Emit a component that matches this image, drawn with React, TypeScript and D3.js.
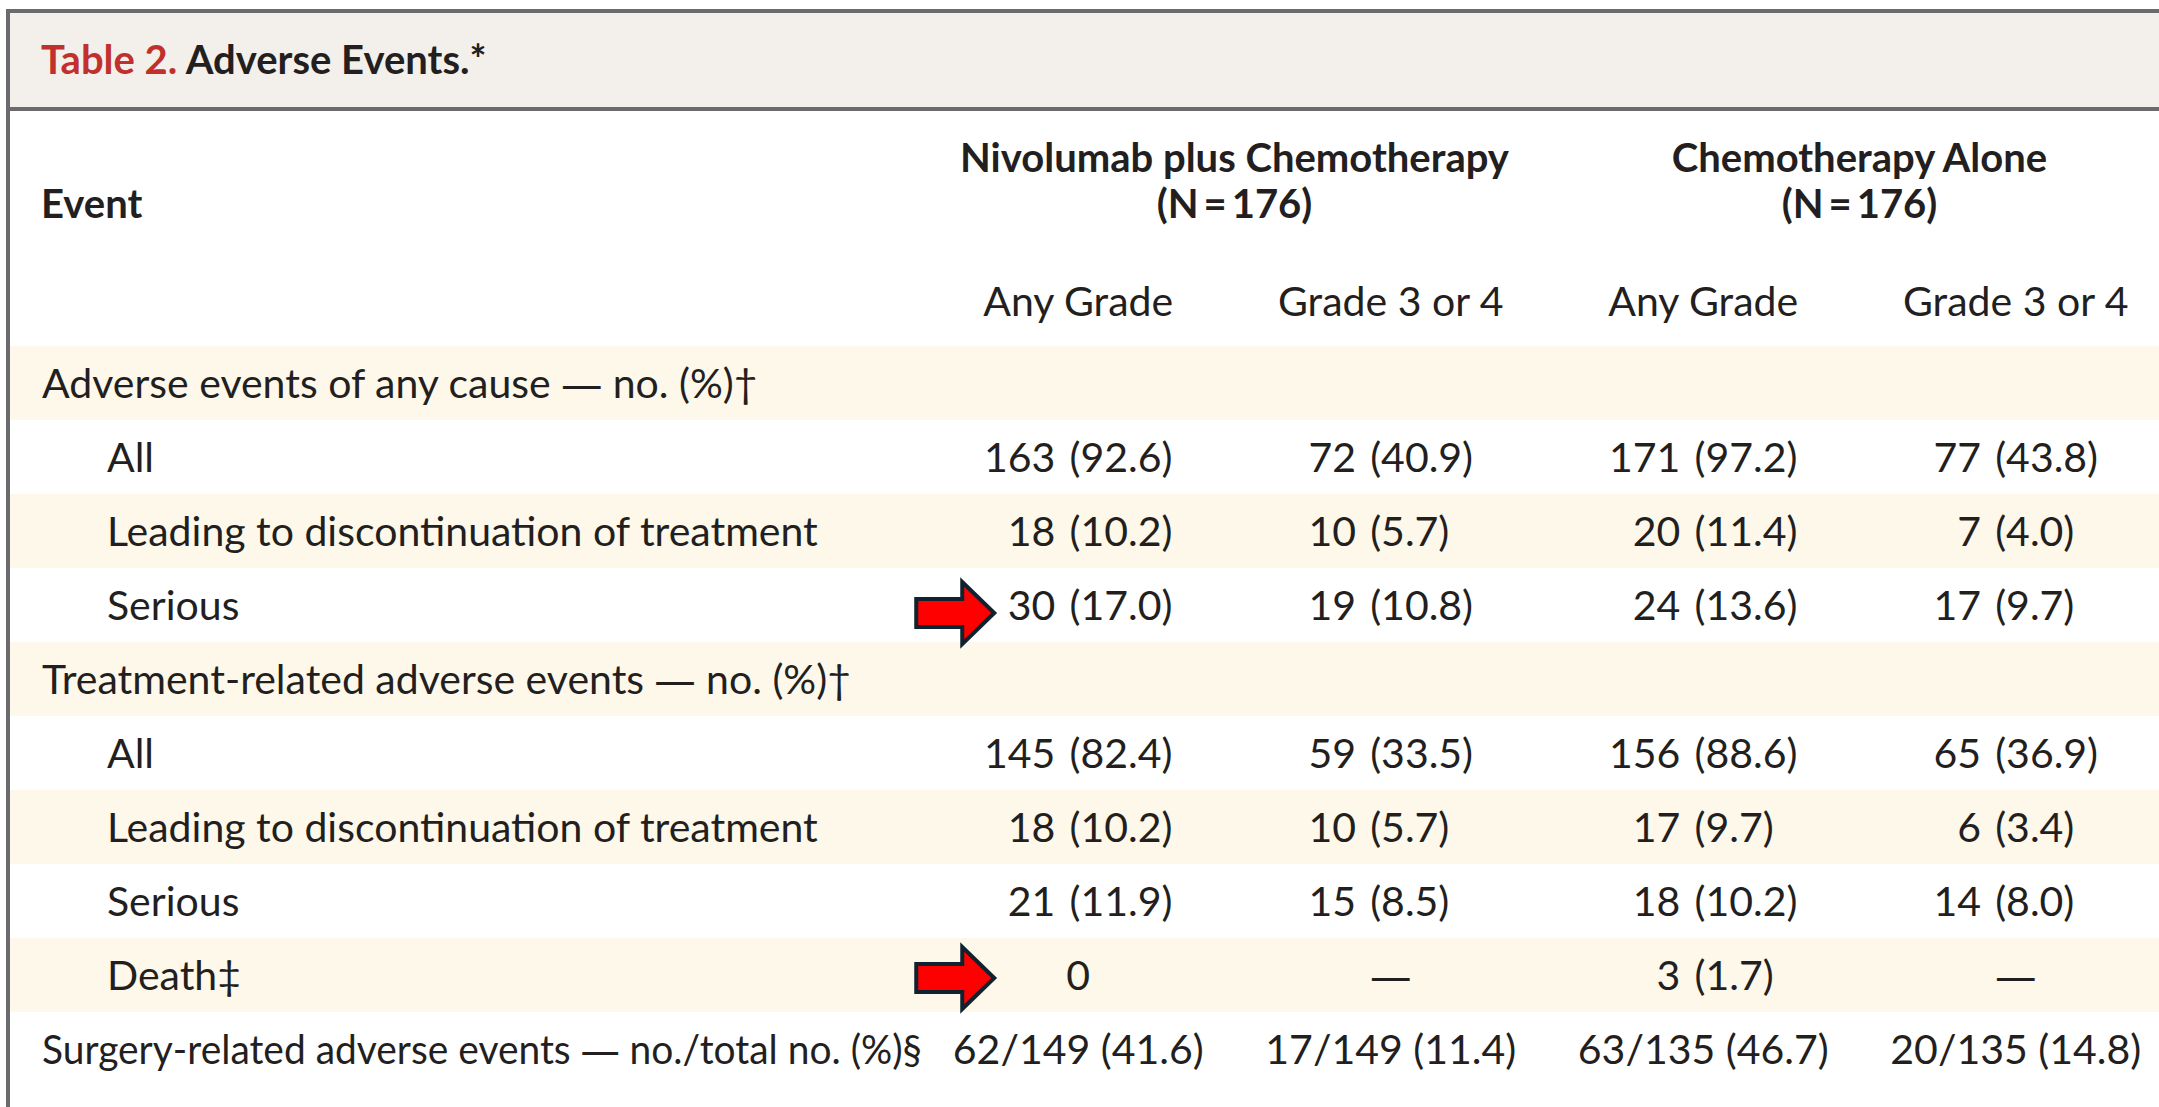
import React, { useMemo } from "react";
import * as d3 from "d3";

const W = 2159;
const H = 1107;

// ---- data ----
const titleLabel = "Table 2.";
const titleText = "Adverse Events.*";
const eventHeader = "Event";
const groupNames = ["Nivolumab plus Chemotherapy", "Chemotherapy Alone"];
const groupCounts = ["(N\u2009=\u2009176)", "(N\u2009=\u2009176)"];
const subColumns = ["Any Grade", "Grade 3 or 4", "Any Grade", "Grade 3 or 4"];

const rowLabels = [
  "Adverse events of any cause \u2014 no. (%)\u2020",
  "All",
  "Leading to discontinuation of treatment",
  "Serious",
  "Treatment-related adverse events \u2014 no. (%)\u2020",
  "All",
  "Leading to discontinuation of treatment",
  "Serious",
  "Death\u2021",
  "Surgery-related adverse events \u2014 no./total no. (%)\u00a7",
];
const rowLevels = [0, 1, 1, 1, 0, 1, 1, 1, 1, 0];
const rowShaded = [true, false, true, false, true, false, true, false, true, false];

const nivoAnyCounts = ["", "163", "18", "30", "", "145", "18", "21", "0", "62/149"];
const nivoAnyPct = [null, "92.6", "10.2", "17.0", null, "82.4", "10.2", "11.9", null, "41.6"];
const nivoG34Counts = ["", "72", "10", "19", "", "59", "10", "15", "\u2014", "17/149"];
const nivoG34Pct = [null, "40.9", "5.7", "10.8", null, "33.5", "5.7", "8.5", null, "11.4"];
const chemoAnyCounts = ["", "171", "20", "24", "", "156", "17", "18", "3", "63/135"];
const chemoAnyPct = [null, "97.2", "11.4", "13.6", null, "88.6", "9.7", "10.2", "1.7", "46.7"];
const chemoG34Counts = ["", "77", "7", "17", "", "65", "6", "14", "\u2014", "20/135"];
const chemoG34Pct = [null, "43.8", "4.0", "9.7", null, "36.9", "3.4", "8.0", null, "14.8"];

const arrowRows = [3, 8];

// ---- style ----
const FONT = "Lato, 'Open Sans', sans-serif";
const DASH_FONT = "'Open Sans', 'DejaVu Sans', sans-serif";
const FS = 41;
const FS_HEAD = 40;
const TEXT = "#231f20";
const RED_TITLE = "#c1302c";
const BORDER = "#6b6b6d";
const HEAD_BG = "#f3f0eb";
const BAND_BG = "#fdf8ea";
const LABEL_MAX_W = 880; // label column width before the first value column

// render a string, giving em dashes a wider dash font
function withDashes(s: string) {
  const parts = s.split("\u2014");
  const out: React.ReactNode[] = [];
  parts.forEach((p, i) => {
    if (i > 0)
      out.push(
        <tspan key={`d${i}`} fontFamily={DASH_FONT}>
          {"\u2014"}
        </tspan>
      );
    if (p) out.push(<tspan key={`p${i}`}>{p}</tspan>);
  });
  return out;
}

export default function App() {
  const columns = [
    { counts: nivoAnyCounts, pcts: nivoAnyPct },
    { counts: nivoG34Counts, pcts: nivoG34Pct },
    { counts: chemoAnyCounts, pcts: chemoAnyPct },
    { counts: chemoG34Counts, pcts: chemoG34Pct },
  ];

  const xCol = d3.scaleBand<number>().domain(d3.range(4)).range([922, 2172]);
  const colCenter = (i: number) => (xCol(i) as number) + xCol.bandwidth() / 2;
  const yRow = d3.scaleBand<number>().domain(d3.range(rowLabels.length)).range([346, 1086]);
  const lastRow = rowLabels.length - 1;

  const measure = useMemo(() => {
    const ctx = document.createElement("canvas").getContext("2d")!;
    return (s: string, font = `400 ${FS}px Lato`) => {
      ctx.font = font;
      return ctx.measureText(s).width;
    };
  }, []);

  // approximate label width (dash drawn in dash font)
  const labelWidth = (s: string) => {
    const parts = s.split("\u2014");
    const dashW = measure("\u2014", `400 ${FS}px 'Open Sans'`);
    return d3.sum(parts, (p) => measure(p)) + dashW * (parts.length - 1);
  };

  const gap = measure(" ") * 1.35;
  const colLayout = columns.map((col, ci) => {
    const idx = d3.range(rowLabels.length).filter((r) => r !== lastRow && col.pcts[r] != null);
    const maxC = d3.max(idx, (r) => measure(col.counts[r])) || 0;
    const maxP = d3.max(idx, (r) => measure(`(${col.pcts[r]})`)) || 0;
    const c = colCenter(ci);
    const parenX = c - (maxC + gap + maxP) / 2 + maxC + gap;
    return { c, parenX };
  });

  const arrowDy = [8, 3];
  const arrowPath = (tip: number, cy: number) => {
    const pts: [number, number][] = [
      [tip - 78, cy - 14],
      [tip - 32, cy - 14],
      [tip - 32, cy - 31],
      [tip, cy],
      [tip - 32, cy + 31],
      [tip - 32, cy + 14],
      [tip - 78, cy + 14],
    ];
    return d3.line()(pts) + "Z";
  };

  return (
    <svg
      width={W}
      height={H}
      style={{ position: "absolute", left: 0, top: 0, display: "block", background: "#fff" }}
      fontFamily={FONT}
    >
      {/* header band */}
      <rect x={10} y={13} width={W} height={94} fill={HEAD_BG} />
      {/* shaded rows */}
      {rowLabels.map((_, r) =>
        rowShaded[r] ? (
          <rect key={`band${r}`} x={10} y={yRow(r)} width={W} height={yRow.bandwidth()} fill={BAND_BG} />
        ) : null
      )}
      {/* borders */}
      <rect x={6} y={9} width={W} height={4} fill={BORDER} />
      <rect x={6} y={107} width={W} height={4} fill={BORDER} />
      <rect x={6} y={9} width={4} height={H} fill={BORDER} />

      {/* title */}
      <text x={41} y={74} fontSize={40} fontWeight={700} fill={TEXT}>
        <tspan fill={RED_TITLE}>{titleLabel}</tspan>
        <tspan> {titleText}</tspan>
      </text>

      {/* column headers */}
      <text x={41} y={218} fontSize={FS_HEAD} fontWeight={700} fill={TEXT}>
        {eventHeader}
      </text>
      {groupNames.map((g, gi) => {
        const cx = (colCenter(gi * 2) + colCenter(gi * 2 + 1)) / 2;
        return (
          <g key={`grp${gi}`}>
            <text x={cx} y={172} fontSize={FS_HEAD} fontWeight={700} fill={TEXT} textAnchor="middle">
              {g}
            </text>
            <text x={cx} y={218} fontSize={FS_HEAD} fontWeight={700} fill={TEXT} textAnchor="middle">
              {groupCounts[gi]}
            </text>
          </g>
        );
      })}
      {subColumns.map((s, ci) => (
        <text key={`sub${ci}`} x={colCenter(ci)} y={316} fontSize={FS} fill={TEXT} textAnchor="middle">
          {s}
        </text>
      ))}

      {/* rows */}
      {rowLabels.map((lab, r) => {
        const top = yRow(r) as number;
        const base = top + 52;
        const lx = rowLevels[r] ? 107 : 42;
        const w = labelWidth(lab);
        const sx = w > LABEL_MAX_W ? LABEL_MAX_W / w : 1;
        return (
          <g key={`row${r}`}>
            <text
              transform={`translate(${lx},${base}) scale(${sx},1)`}
              fontSize={FS}
              fill={TEXT}
            >
              {withDashes(lab)}
            </text>
            {columns.map((col, ci) => {
              const cnt = col.counts[r];
              const pct = col.pcts[r];
              const { c, parenX } = colLayout[ci];
              if (!cnt) return null;
              if (r === lastRow) {
                return (
                  <text key={ci} x={c} y={base} fontSize={FS} fill={TEXT} textAnchor="middle">
                    {`${cnt} (${pct})`}
                  </text>
                );
              }
              if (pct == null) {
                return (
                  <text key={ci} x={c} y={base} fontSize={FS} fill={TEXT} textAnchor="middle">
                    {withDashes(cnt)}
                  </text>
                );
              }
              return (
                <g key={ci}>
                  <text x={parenX - gap} y={base} fontSize={FS} fill={TEXT} textAnchor="end">
                    {cnt}
                  </text>
                  <text x={parenX} y={base} fontSize={FS} fill={TEXT} textAnchor="start">
                    {`(${pct})`}
                  </text>
                </g>
              );
            })}
          </g>
        );
      })}

      {/* arrows */}
      {arrowRows.map((r, i) => {
        const cy = (yRow(r) as number) + yRow.bandwidth() / 2 + arrowDy[i];
        const tip = colCenter(0) - 84;
        return (
          <path
            key={`arrow${i}`}
            d={arrowPath(tip, cy)}
            fill="#ff0000"
            stroke="#10222f"
            strokeWidth={4}
            strokeLinejoin="miter"
          />
        );
      })}
    </svg>
  );
}
